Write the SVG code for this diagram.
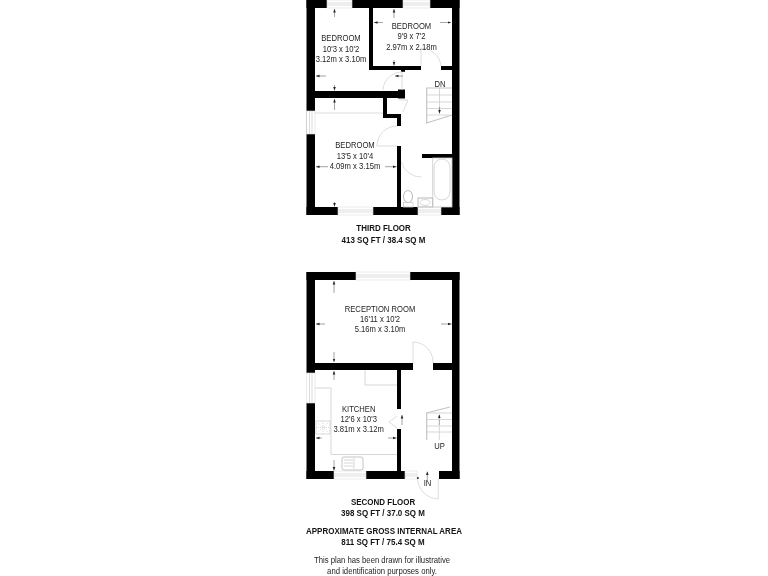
<svg xmlns="http://www.w3.org/2000/svg" width="768" height="576" viewBox="0 0 768 576">
<defs>
<marker id="ah" viewBox="0 0 6 6" refX="6" refY="3" markerUnits="userSpaceOnUse" markerWidth="3.500" markerHeight="3.500" orient="auto-start-reverse"><path d="M0 0.800L6 3L0 5.200z" fill="#222"/></marker>
</defs>
<style>
text{font-family:"Liberation Sans",Arial,sans-serif;font-size:8.800px;fill:#222;text-anchor:middle;transform-box:fill-box;transform-origin:center;transform:scaleX(.87)}
.b{font-weight:bold;font-size:9.200px;fill:#111;transform:scaleX(.868)}
.n{font-size:8.800px;transform:scaleX(.88)}
.w{fill:#000}
.g{fill:none;stroke:#cdcdcd;stroke-width:.8}
.s{fill:none;stroke:#c4c4c4;stroke-width:1.200}
.d{fill:none;stroke:#d4d4d4;stroke-width:.8}
.win{fill:#fff;stroke:#dcdcdc;stroke-width:.6}
.a{stroke:#666;stroke-width:.6;fill:none;marker-end:url(#ah)}
</style>
<rect width="768" height="576" fill="#fff"/>
<g id="third-floor-walls" class="w">
<rect x="306.500" y="0" width="153" height="8"/>
<rect x="306.500" y="0" width="8.500" height="215"/>
<rect x="452" y="0" width="7.500" height="215"/>
<rect x="306.500" y="207" width="153" height="8"/>
<rect x="369" y="8" width="4" height="62"/>
<rect x="369" y="66" width="52" height="4"/>
<rect x="441" y="66" width="11" height="4"/>
<rect x="401" y="70" width="4" height="1.800"/>
<rect x="315" y="91" width="90" height="7"/>
<rect x="398" y="89.500" width="7" height="9"/>
<rect x="383" y="98" width="4" height="20"/>
<rect x="383" y="114" width="18" height="4"/>
<rect x="397" y="114" width="4" height="12"/>
<rect x="397" y="146" width="4" height="62"/>
<rect x="422" y="154" width="30" height="4"/>
</g>
<g id="third-floor-fixtures">
<rect class="win" x="327" y="0" width="25" height="8"/><path class="d" d="M327 3H352M327 5H352"/>
<rect class="win" x="403" y="0" width="27" height="8"/><path class="d" d="M403 3H430M403 5H430"/>
<rect class="win" x="306.500" y="111" width="8.500" height="23"/><path class="d" d="M309.500 111V134M312 111V134"/>
<rect class="win" x="338" y="207" width="35" height="8"/><path class="d" d="M338 210H373M338 212H373"/>
<rect class="win" x="418" y="207" width="23" height="8"/><path class="d" d="M418 210H441M418 212H441"/>
<path class="d" d="M315 113H383"/>
<path class="d" d="M421 48V66M421 48A20 20 0 0 1 441 66"/>
<path class="d" d="M402 72V90M402 72A19 19 0 0 0 383 90"/>
<path class="d" d="M397 146H377A20 20 0 0 1 397 126"/>
<path class="d" d="M401.500 162A20 20 0 0 0 421.500 177"/>
<path class="d" d="M399 100H408L403 112"/>
<path class="s" d="M452 88H426.700V123L452 115"/>
<path class="g" d="M426.700 95H452M426.700 102H452M426.700 108.500H452M426.700 115H449M439.500 88V113"/>
<rect class="g" x="432.700" y="158" width="19.300" height="49"/>
<rect class="g" x="434" y="159" width="16" height="41" rx="8"/>
<ellipse class="s" cx="408" cy="196.500" rx="4.500" ry="6"/><rect class="g" x="403.500" y="202.500" width="9.500" height="4.500"/>
<rect class="s" x="418" y="198" width="14.700" height="9"/><ellipse class="g" cx="425" cy="202.500" rx="5" ry="3"/>
</g>
<g id="connectors">
<path class="a" d="M334.500 17V9"/><path class="a" d="M334.500 85V90.500"/>
<path class="a" d="M326 76H316"/><path class="a" d="M403 76H395"/>
<path class="a" d="M394 18V9"/><path class="a" d="M394 60V65.500"/>
<path class="a" d="M383 22.500H374"/><path class="a" d="M440 22.500H451"/>
<path class="a" d="M334.500 110V99"/><path class="a" d="M334.500 202V206.500"/>
<path class="a" d="M328 166.700H316"/><path class="a" d="M385 166.700H396.500"/>
<path class="a" d="M439.500 107V113.500"/>
<path class="a" d="M334 293V281"/><path class="a" d="M334 352V362"/>
<path class="a" d="M325 324H316"/><path class="a" d="M441 324H451.500"/>
<path class="a" d="M334 380V371"/><path class="a" d="M334 460V470.500"/>
<path class="a" d="M322 438H316"/><path class="a" d="M388 438H396.500"/>
<path class="a" d="M402 425V415"/>
<path class="a" d="M439.300 425V414.500"/>
<path class="a" d="M427.300 480V471.500"/>
</g>
<g id="second-floor-walls" class="w">
<rect x="306.500" y="272" width="153" height="8"/>
<rect x="306.500" y="272" width="8.500" height="101"/>
<rect x="452" y="272" width="7.500" height="207"/>
<rect x="306.500" y="403" width="8.500" height="76"/>
<rect x="306.500" y="471" width="98.500" height="8"/>
<rect x="439" y="471" width="20.500" height="8"/>
<rect x="417" y="477" width="1.500" height="2"/>
<rect x="315" y="363" width="98" height="7"/>
<rect x="433" y="363" width="19" height="7"/>
<rect x="397" y="370" width="4" height="39"/>
<rect x="397" y="429" width="4" height="43"/>
</g>
<g id="second-floor-fixtures">
<rect class="win" x="356" y="272" width="54" height="8"/><path class="d" d="M356 275H410M356 277H410"/>
<rect class="win" x="306.500" y="373" width="8.500" height="30"/><path class="d" d="M309.500 373V403M312 373V403"/>
<rect class="win" x="334" y="471" width="32" height="8"/><path class="d" d="M334 474H366M334 476H366"/>
<rect class="win" x="405" y="471" width="12" height="8"/><path class="d" d="M405 474H417M405 476H417"/>
<path class="d" d="M413 342V363M413 342A20 20 0 0 1 433 363"/>
<path class="g" d="M365 370V385H397"/>
<path class="g" d="M315 388H331V454.500H397"/>
<rect class="g" x="316" y="421" width="14" height="13"/>
<path class="g" d="M318 423L328 432M328 423L318 432M316 427.500H330M323 421V434" stroke-dasharray="1 1"/>
<rect x="342" y="457" width="21" height="13" rx="2" fill="#fff" stroke="#c4c4c4" stroke-width="1"/>
<path class="g" d="M344 460H353M344 463H353M344 466H353M354 458V469"/>
<path class="d" d="M397 416L389 422L397 428"/>
<path class="s" d="M426.700 440V413L450 407"/>
<path class="g" d="M426.700 413H452M426.700 419.500H452M426.700 426H452M426.700 432H452M439.300 425V440"/>
<path class="d" d="M417.700 479A21 21 0 0 0 438.300 499V479"/>
</g>
<g id="labels" opacity="0.99">
<text x="341" y="41.500">BEDROOM</text><text x="341" y="52">10'3 x 10'2</text><text x="341" y="62">3.12m x 3.10m</text>
<text x="411.500" y="29.500">BEDROOM</text><text x="411.500" y="39.500">9'9 x 7'2</text><text x="411.500" y="50">2.97m x 2.18m</text>
<text x="440" y="87">DN</text>
<text x="355" y="148.500">BEDROOM</text><text x="355" y="159">13'5 x 10'4</text><text x="355" y="169">4.09m x 3.15m</text>
<text class="b" x="383.500" y="231">THIRD FLOOR</text><text class="b" x="383.500" y="243">413 SQ FT / 38.4 SQ M</text>
<text x="380" y="312">RECEPTION ROOM</text><text x="380" y="322">16'11 x 10'2</text><text x="380" y="332">5.16m x 3.10m</text>
<text x="358.700" y="412.500">KITCHEN</text><text x="358.700" y="422">12'6 x 10'3</text><text x="358.700" y="432">3.81m x 3.12m</text>
<text x="439.500" y="449">UP</text><text x="427.500" y="486">IN</text>
<text class="b" x="383" y="505">SECOND FLOOR</text><text class="b" x="383" y="516.500">398 SQ FT / 37.0 SQ M</text>
<text class="b" x="384" y="534">APPROXIMATE GROSS INTERNAL AREA</text><text class="b" x="383" y="545">811 SQ FT / 75.4 SQ M</text>
<text class="n" x="382" y="563.500">This plan has been drawn for illustrative</text><text class="n" x="382" y="574">and identification purposes only.</text>
</g>
</svg>
